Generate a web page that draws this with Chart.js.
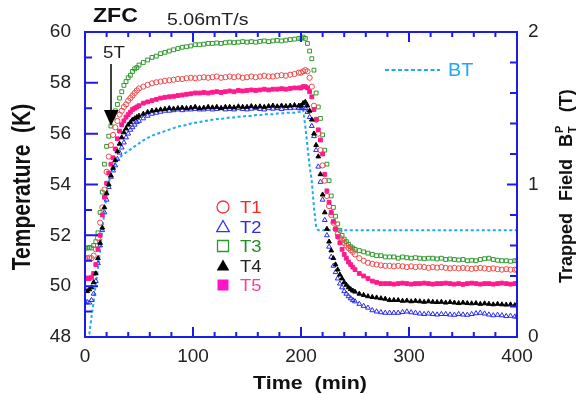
<!DOCTYPE html>
<html>
<head>
<meta charset="utf-8">
<script src="https://cdn.jsdelivr.net/npm/chart.js@4.4.0/dist/chart.umd.min.js"></script>
<style>
  html, body { margin: 0; padding: 0; background: #fff; }
</style>
</head>
<body>
<canvas id="chart" width="588" height="394"></canvas>
<script>
// time (min) shared by the five temperature series
const times = [
  0, 2, 4, 6, 8, 10, 12, 14, 16, 18, 20, 22, 24, 26, 28, 30, 32, 34, 36, 38, 40, 42, 44, 46, 48, 50,
  54, 58, 62, 66, 70, 74, 78, 82, 86, 90, 94, 98, 102, 106, 110, 114, 118, 122, 126, 130, 134, 138, 142, 146, 150, 154, 158, 162, 166, 170, 174, 178, 182, 186, 190, 194, 198,
  200, 202, 204, 206, 208, 210, 212, 214, 216, 218, 220, 222, 224, 226, 228, 230, 232, 234, 236, 238, 240, 242, 244, 246, 248, 250,
  254, 258, 262, 266, 270, 274, 278, 282, 286, 290, 294, 298, 302, 306, 310, 314, 318, 322, 326, 330, 334, 338, 342, 346, 350, 354, 358, 362, 366, 370, 374, 378, 382, 386, 390, 394, 398, 400
];

const t1 = [
  51.1, 51.1, 51.12, 51.1, 51.2, 51.45, 51.9, 52.5, 53.1, 53.8, 54.5, 55.1, 55.55, 55.95, 56.25, 56.5, 56.75, 56.9, 57.05, 57.15, 57.3, 57.4, 57.5, 57.6, 57.7, 57.78,
  57.85, 57.92, 57.98, 58.02, 58.05, 58.08, 58.1, 58.12, 58.15, 58.15, 58.18, 58.2, 58.18, 58.2, 58.22, 58.2, 58.22, 58.25, 58.2, 58.22, 58.25, 58.22, 58.25, 58.2, 58.22, 58.25, 58.22, 58.25, 58.28, 58.25, 58.25, 58.28, 58.3, 58.28, 58.32, 58.35, 58.4,
  58.4, 58.45, 58.5, 58.45, 58.2, 57.85, 57.1, 56.55, 56.0, 55.35, 54.75, 54.15, 53.55, 53.15, 52.8, 52.5, 52.25, 52.05, 51.9, 51.8, 51.7, 51.6, 51.5, 51.42, 51.35, 51.25,
  51.1, 51.0, 50.92, 50.88, 50.85, 50.82, 50.8, 50.8, 50.78, 50.8, 50.78, 50.75, 50.78, 50.75, 50.77, 50.75, 50.72, 50.75, 50.73, 50.75, 50.72, 50.7, 50.72, 50.7, 50.72, 50.7, 50.68, 50.7, 50.72, 50.7, 50.68, 50.7, 50.67, 50.65, 50.67, 50.65, 50.65, 50.65
];
const t2 = [
  49.35, 49.37, 49.35, 49.45, 49.7, 50.2, 50.9, 51.6, 52.2, 52.9, 53.4, 53.9, 54.3, 54.55, 54.75, 55.0, 55.25, 55.45, 55.65, 55.85, 56.0, 56.15, 56.25, 56.35, 56.45, 56.5,
  56.6, 56.7, 56.78, 56.82, 56.86, 56.9, 56.9, 56.92, 56.95, 56.92, 56.95, 56.95, 56.97, 56.95, 56.95, 56.98, 56.95, 56.97, 57.0, 56.95, 56.97, 56.95, 57.0, 56.97, 56.95, 56.98, 57.0, 56.97, 56.95, 57.0, 56.98, 57.0, 56.97, 57.0, 57.0, 57.02, 57.0,
  57.0, 57.0, 57.0, 56.85, 56.65, 56.3, 55.9, 55.35, 54.7, 54.1, 53.4, 52.6, 52.0, 51.55, 51.15, 50.8, 50.55, 50.3, 50.1, 49.95, 49.8, 49.7, 49.6, 49.52, 49.45, 49.4,
  49.3, 49.22, 49.15, 49.05, 49.0, 48.97, 48.95, 48.95, 48.95, 48.95, 48.98, 49.0, 48.97, 48.95, 48.92, 48.9, 48.92, 48.9, 48.88, 48.9, 48.9, 48.88, 48.87, 48.9, 48.88, 48.87, 48.9, 48.93, 48.95, 48.92, 48.88, 48.85, 48.87, 48.85, 48.82, 48.83, 48.8, 48.8
];
const t3 = [
  51.5, 51.5, 51.52, 51.5, 51.6, 51.75, 52.1, 52.9, 53.7, 54.8, 55.5, 55.9, 56.3, 56.65, 56.9, 57.15, 57.4, 57.65, 57.9, 58.05, 58.2, 58.3, 58.45, 58.55, 58.6, 58.7,
  58.8, 58.9, 59.0, 59.05, 59.15, 59.2, 59.25, 59.3, 59.35, 59.4, 59.42, 59.45, 59.5, 59.5, 59.52, 59.55, 59.55, 59.57, 59.55, 59.58, 59.6, 59.58, 59.6, 59.62, 59.6, 59.62, 59.6, 59.63, 59.65, 59.62, 59.65, 59.67, 59.65, 59.68, 59.7, 59.72, 59.75,
  59.75, 59.8, 59.75, 59.55, 59.25, 58.95, 58.5, 57.6, 57.05, 56.6, 55.95, 55.35, 54.8, 54.15, 53.55, 53.1, 52.75, 52.45, 52.2, 52.0, 51.85, 51.75, 51.65, 51.55, 51.5, 51.45,
  51.4, 51.35, 51.3, 51.25, 51.2, 51.2, 51.15, 51.15, 51.15, 51.1, 51.15, 51.12, 51.1, 51.12, 51.1, 51.08, 51.1, 51.1, 51.07, 51.1, 51.05, 51.07, 51.05, 51.03, 51.05, 51.0, 51.02, 51.0, 51.05, 51.08, 51.1, 51.05, 51.02, 51.0, 51.0, 50.98, 51.0, 51.0
];
const t4 = [
  49.85, 49.8, 49.87, 49.95, 50.15, 50.5, 51.1, 51.7, 52.3, 53.1, 53.65, 54.0, 54.35, 54.65, 54.95, 55.3, 55.6, 55.85, 56.05, 56.2, 56.35, 56.45, 56.55, 56.6, 56.65, 56.7,
  56.78, 56.85, 56.9, 56.92, 56.95, 56.97, 57.0, 56.98, 57.0, 57.02, 57.0, 57.02, 57.05, 57.0, 57.02, 57.05, 57.03, 57.05, 57.0, 57.05, 57.05, 57.03, 57.07, 57.05, 57.05, 57.08, 57.05, 57.07, 57.05, 57.08, 57.1, 57.07, 57.1, 57.08, 57.1, 57.12, 57.1,
  57.1, 57.2, 57.25, 57.1, 56.9, 56.55, 56.0, 55.55, 55.1, 54.4, 53.6, 52.9, 52.25, 51.75, 51.4, 51.1, 50.85, 50.65, 50.45, 50.3, 50.15, 50.05, 49.95, 49.88, 49.82, 49.78,
  49.7, 49.65, 49.6, 49.57, 49.55, 49.52, 49.5, 49.45, 49.45, 49.45, 49.42, 49.43, 49.4, 49.42, 49.4, 49.38, 49.4, 49.38, 49.37, 49.38, 49.35, 49.37, 49.35, 49.33, 49.35, 49.33, 49.32, 49.33, 49.3, 49.32, 49.3, 49.28, 49.3, 49.28, 49.27, 49.28, 49.25, 49.25
];
const t5 = [
  50.3, 50.32, 50.3, 50.35, 50.5, 50.85, 51.45, 52.0, 52.8, 53.5, 54.05, 54.45, 54.8, 55.05, 55.4, 55.8, 56.1, 56.35, 56.5, 56.65, 56.75, 56.85, 56.95, 57.0, 57.05, 57.1,
  57.2, 57.25, 57.3, 57.35, 57.4, 57.43, 57.45, 57.47, 57.5, 57.52, 57.55, 57.57, 57.6, 57.6, 57.62, 57.6, 57.63, 57.65, 57.62, 57.65, 57.68, 57.65, 57.7, 57.68, 57.7, 57.72, 57.7, 57.72, 57.75, 57.72, 57.75, 57.75, 57.77, 57.75, 57.78, 57.8, 57.8,
  57.8, 57.85, 57.85, 57.8, 57.65, 57.45, 56.95, 56.55, 56.15, 55.75, 55.2, 54.4, 53.75, 53.3, 52.9, 52.55, 52.25, 51.95, 51.7, 51.45, 51.25, 51.1, 50.95, 50.85, 50.75, 50.65,
  50.5, 50.4, 50.3, 50.2, 50.15, 50.1, 50.1, 50.1, 50.08, 50.1, 50.12, 50.1, 50.08, 50.1, 50.1, 50.12, 50.1, 50.08, 50.1, 50.1, 50.12, 50.1, 50.08, 50.1, 50.07, 50.1, 50.12, 50.1, 50.08, 50.1, 50.1, 50.08, 50.1, 50.12, 50.1, 50.08, 50.1, 50.1
];

// trapped field BT (right axis, tesla)
const btTimes = [
  0, 2, 4, 6, 8, 10, 12, 14, 16, 18, 20, 22, 24, 26, 28, 30, 32, 34, 36, 38, 40, 42, 44, 46, 48, 50,
  54, 58, 62, 66, 70, 74, 78, 82, 86, 90, 94, 98, 102, 106, 110, 114, 118, 122, 126, 130, 134, 138, 142, 146, 150, 154, 158, 162, 166, 170, 174, 178, 182, 186, 190, 194, 198,
  200, 202, 204, 206, 208, 210, 212, 214, 216, 400
];
const bt = [
  0, 0, 0.02, 0.13, 0.23, 0.35, 0.45, 0.57, 0.7, 0.82, 0.93, 1.01, 1.07, 1.11, 1.14, 1.16, 1.175, 1.19, 1.2, 1.21, 1.22, 1.23, 1.24, 1.25, 1.26, 1.27,
  1.29, 1.305, 1.32, 1.33, 1.34, 1.35, 1.36, 1.37, 1.38, 1.385, 1.39, 1.4, 1.405, 1.41, 1.415, 1.42, 1.425, 1.43, 1.43, 1.435, 1.44, 1.44, 1.445, 1.445, 1.45, 1.45, 1.455, 1.455, 1.46, 1.46, 1.46, 1.465, 1.465, 1.47, 1.47, 1.47, 1.475,
  1.48, 1.49, 1.38, 1.25, 1.12, 1.02, 0.85, 0.72, 0.7, 0.7
];

// tick marks drawn inside the frame
const xTickMarks = [0, 20, 40, 60, 80, 100, 120, 140, 160, 180, 200, 220, 240, 260, 280, 300, 320, 340, 360, 380, 400];
const yTickMarks = [48, 49, 50, 51, 52, 53, 54, 55, 56, 57, 58, 59, 60];
const y2TickMarks = [0, 0.2, 0.4, 0.6, 0.8, 1, 1.2, 1.4, 1.6, 1.8, 2];

const legendItems = [
  { label: 'T1', style: 'circle', color: '#f03a3a', text: '#f02a2a', filled: false },
  { label: 'T2', style: 'triangle', color: '#3434f0', text: '#2a2ae8', filled: false },
  { label: 'T3', style: 'rect', color: '#2e9a2e', text: '#238c23', filled: false },
  { label: 'T4', style: 'triangle', color: '#000000', text: '#222222', filled: true },
  { label: 'T5', style: 'rect', color: '#ff14c8', text: '#ff3aa0', filled: true }
];

const FONT = "'Liberation Sans', Arial, sans-serif";
const AXIS = '#1c1ce8';
const BT_COLOR = '#1eaaf0';

function pts(vals) {
  return times.map((t, i) => ({ x: t, y: vals[i] }));
}

function stretchText(ctx, str, x, y, font, color, sx, align) {
  ctx.save();
  ctx.translate(x, y);
  ctx.scale(sx, 1);
  ctx.font = font;
  ctx.fillStyle = color;
  ctx.textAlign = align || 'left';
  ctx.textBaseline = 'alphabetic';
  ctx.fillText(str, 0, 0);
  ctx.restore();
}

function marker(ctx, item, x, y) {
  const r = 6;
  ctx.save();
  ctx.lineWidth = 1.3;
  ctx.strokeStyle = item.color;
  ctx.fillStyle = item.color;
  ctx.beginPath();
  if (item.style === 'circle') {
    ctx.arc(x, y, r, 0, Math.PI * 2);
  } else if (item.style === 'triangle') {
    ctx.moveTo(x, y - r);
    ctx.lineTo(x + r * 1.05, y + r * 0.85);
    ctx.lineTo(x - r * 1.05, y + r * 0.85);
    ctx.closePath();
  } else {
    ctx.rect(x - r + 0.5, y - r + 0.5, 2 * r - 1, 2 * r - 1);
  }
  if (item.filled) ctx.fill(); else ctx.stroke();
  ctx.restore();
}

const overlay = {
  id: 'overlay',
  afterDraw(chart) {
    const ctx = chart.ctx;
    const { left, right, top, bottom } = chart.chartArea;
    const sx = chart.scales.x, sy = chart.scales.y, sy2 = chart.scales.y2;
    ctx.save();

    // frame + inward ticks
    ctx.strokeStyle = AXIS;
    ctx.lineWidth = 2;
    ctx.strokeRect(left, top, right - left, bottom - top);
    ctx.beginPath();
    xTickMarks.forEach(v => {
      const p = sx.getPixelForValue(v);
      const l = v % 100 === 0 ? 10 : 5;
      ctx.moveTo(p, bottom); ctx.lineTo(p, bottom - l);
      ctx.moveTo(p, top); ctx.lineTo(p, top + l);
    });
    yTickMarks.forEach(v => {
      const p = sy.getPixelForValue(v);
      const l = v % 2 === 0 ? 13 : 7;
      ctx.moveTo(left, p); ctx.lineTo(left + l, p);
    });
    y2TickMarks.forEach(v => {
      const p = sy2.getPixelForValue(v);
      const l = Math.abs(v - Math.round(v)) < 1e-6 ? 10 : 7;
      ctx.moveTo(right, p); ctx.lineTo(right - l, p);
    });
    ctx.stroke();

    // header texts
    stretchText(ctx, 'ZFC', 93, 22, 'bold 21px ' + FONT, '#111', 1.1);
    stretchText(ctx, '5.06mT/s', 167, 25, '17px ' + FONT, '#222', 1.15);

    // 5T arrow
    stretchText(ctx, '5T', 103, 58, '17px ' + FONT, '#222', 1.1);
    ctx.strokeStyle = '#000';
    ctx.lineWidth = 1.5;
    ctx.beginPath();
    ctx.moveTo(111, 64); ctx.lineTo(111, 111);
    ctx.stroke();
    ctx.fillStyle = '#000';
    ctx.beginPath();
    ctx.moveTo(104, 110); ctx.lineTo(118.5, 110); ctx.lineTo(111, 126);
    ctx.closePath();
    ctx.fill();

    // legend of temperature series
    legendItems.forEach((item, i) => {
      const yy = 207 + i * 19.5;
      marker(ctx, item, 223, yy);
      stretchText(ctx, item.label, 240, yy + 6, '16px ' + FONT, item.text, 1.15);
    });

    // BT legend
    ctx.strokeStyle = BT_COLOR;
    ctx.lineWidth = 2;
    ctx.setLineDash([4, 2.5]);
    ctx.beginPath();
    ctx.moveTo(385, 70); ctx.lineTo(440, 70);
    ctx.stroke();
    ctx.setLineDash([]);
    stretchText(ctx, 'BT', 448, 76, '18px ' + FONT, BT_COLOR, 1.1);

    // x title
    stretchText(ctx, 'Time  (min)', 310, 389, 'bold 18px ' + FONT, '#111', 1.19, 'center');

    // left title
    ctx.save();
    ctx.translate(23, 187);
    ctx.rotate(-Math.PI / 2);
    ctx.scale(1, 1.2);
    ctx.font = 'bold 21px ' + FONT;
    ctx.fillStyle = '#111';
    ctx.textAlign = 'center';
    ctx.textBaseline = 'middle';
    ctx.fillText('Temperature  (K)', 0, 0);
    ctx.restore();

    // right title with sub/superscript
    ctx.save();
    ctx.translate(566, 283);
    ctx.rotate(-Math.PI / 2);
    ctx.fillStyle = '#111';
    ctx.textBaseline = 'alphabetic';
    ctx.textAlign = 'left';
    const base = 6.4;
    let pos = 0;
    ctx.font = 'bold 18px ' + FONT;
    ctx.fillText('Trapped', pos, base);
    pos += ctx.measureText('Trapped').width + 12;
    ctx.fillText('Field', pos, base);
    pos += ctx.measureText('Field').width + 12;
    ctx.fillText('B', pos, base);
    pos += ctx.measureText('B').width + 1;
    ctx.font = 'bold 11px ' + FONT;
    ctx.fillText('T', pos, base + 4);
    ctx.fillText('P', pos, base - 9);
    pos += ctx.measureText('T').width + 14;
    ctx.font = 'bold 18px ' + FONT;
    ctx.fillText('(T)', pos, base);
    ctx.restore();

    ctx.restore();
  }
};

const tickFont = { family: FONT, size: 19 };

new Chart(document.getElementById('chart').getContext('2d'), {
  type: 'scatter',
  data: {
    datasets: [
      { label: 'T4', data: pts(t4), pointStyle: 'triangle', pointRadius: 2.7, borderWidth: 1, borderColor: '#000', backgroundColor: '#000', yAxisID: 'y' },
      { label: 'T5', data: pts(t5), pointStyle: 'rect', pointRadius: 2.7, borderWidth: 1, borderColor: '#ff1a8c', backgroundColor: '#ff1a8c', yAxisID: 'y' },
      { label: 'T1', data: pts(t1), pointStyle: 'circle', pointRadius: 2.6, borderWidth: 1, borderColor: '#f04848', backgroundColor: 'rgba(0,0,0,0)', yAxisID: 'y' },
      { label: 'T3', data: pts(t3), pointStyle: 'rect', pointRadius: 2.7, borderWidth: 1, borderColor: '#2e9a2e', backgroundColor: 'rgba(0,0,0,0)', yAxisID: 'y' },
      { label: 'T2', data: pts(t2), pointStyle: 'triangle', pointRadius: 2.8, borderWidth: 1, borderColor: '#2a2af0', backgroundColor: 'rgba(0,0,0,0)', yAxisID: 'y' },
      {
        label: 'BT', type: 'line', yAxisID: 'y2',
        data: btTimes.map((t, i) => ({ x: t, y: bt[i] })),
        borderColor: BT_COLOR, borderWidth: 2, borderDash: [3, 2.5],
        pointRadius: 0, fill: false, tension: 0
      }
    ]
  },
  options: {
    responsive: false,
    animation: false,
    events: [],
    layout: { padding: { top: 32, left: 0, right: 0, bottom: 0 } },
    plugins: { legend: { display: false }, tooltip: { enabled: false } },
    scales: {
      x: {
        type: 'linear', position: 'bottom', min: 0, max: 400,
        grid: { display: false, drawTicks: false }, border: { display: false },
        ticks: { stepSize: 100, padding: 8, font: tickFont, color: '#222', maxRotation: 0 },
        afterFit(s) { s.height = 57; }
      },
      y: {
        type: 'linear', position: 'left', min: 48, max: 60,
        grid: { display: false, drawTicks: false }, border: { display: false },
        ticks: { stepSize: 2, padding: 14, font: tickFont, color: '#222' },
        afterFit(s) { s.width = 85; }
      },
      y2: {
        type: 'linear', position: 'right', min: 0, max: 2,
        grid: { display: false, drawTicks: false }, border: { display: false },
        ticks: { stepSize: 1, padding: 11, font: tickFont, color: '#222' },
        afterFit(s) { s.width = 71; }
      }
    }
  },
  plugins: [overlay]
});
</script>
</body>
</html>
